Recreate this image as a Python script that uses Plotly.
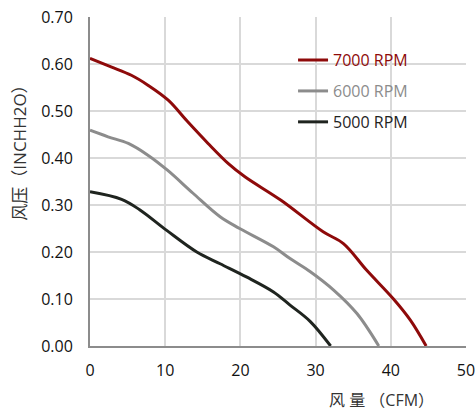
import plotly.graph_objects as go

flow_7000 = [0, 2.8, 5.5, 7.7, 10.4, 13.0, 15.7, 18.4, 20.6, 25.4, 31.0, 33.7, 36.8, 40.3, 42.6, 44.7]
pres_7000 = [0.612, 0.594, 0.576, 0.555, 0.523, 0.477, 0.431, 0.388, 0.36, 0.31, 0.243, 0.218, 0.161, 0.101, 0.055, 0.0]

flow_6000 = [0, 2.4, 5.1, 7.7, 10.3, 13.7, 17.3, 19.9, 24.4, 26.6, 29.3, 32.4, 35.5, 38.4]
pres_6000 = [0.459, 0.445, 0.431, 0.406, 0.374, 0.325, 0.275, 0.25, 0.211, 0.186, 0.158, 0.119, 0.069, 0.0]

flow_5000 = [0, 4.2, 6.6, 10.2, 14.2, 17.3, 20.8, 24.4, 26.6, 29.3, 32.0]
pres_5000 = [0.328, 0.312, 0.29, 0.246, 0.2, 0.175, 0.147, 0.115, 0.087, 0.052, 0.0]

series_names = ["7000 RPM", "6000 RPM", "5000 RPM"]
series_colors = ["#8e0a0a", "#8c8c8c", "#1f241f"]

x_ticks = [0, 10, 20, 30, 40, 50]
y_ticks = [0.0, 0.1, 0.2, 0.3, 0.4, 0.5, 0.6, 0.7]
y_tick_labels = ["0.00", "0.10", "0.20", "0.30", "0.40", "0.50", "0.60", "0.70"]

fig = go.Figure()
data = [(flow_7000, pres_7000), (flow_6000, pres_6000), (flow_5000, pres_5000)]
legends = ["legend", "legend2", "legend3"]
for (xs, ys), name, color, lg in zip(data, series_names, series_colors, legends):
    fig.add_trace(go.Scatter(
        x=xs, y=ys, mode="lines", name=name,
        line=dict(color=color, width=3, shape="spline", smoothing=1.0),
        legend=lg,
    ))

font_family = "Open Sans, Noto Sans CJK SC, sans-serif"
leg_common = dict(bgcolor="rgba(0,0,0,0)", borderwidth=0, xanchor="left", yanchor="middle",
                  itemwidth=30, tracegroupgap=0)
legend_y = [0.869, 0.775, 0.681]
lay_leg = {}
for lg, color, yy in zip(legends, series_colors, legend_y):
    d = dict(leg_common)
    d.update(x=0.54, y=yy, font=dict(family=font_family, size=16, color=color))
    lay_leg[lg] = d

fig.update_layout(
    width=476, height=412,
    margin=dict(l=90, r=10, t=17, b=66),
    paper_bgcolor="white", plot_bgcolor="white",
    showlegend=True,
    font=dict(family=font_family, size=16, color="#111111"),
    xaxis=dict(range=[0, 50], tickvals=x_ticks, showgrid=True, gridcolor="#d9d9d9", gridwidth=1.5,
               showline=True, linecolor="#8c8c8c", linewidth=2, zeroline=False, automargin=False,
               ticks="", ticklabelstandoff=9, tickfont=dict(size=16, color="#111111"),
               mirror=False),
    yaxis=dict(range=[0, 0.7], tickvals=y_ticks, ticktext=y_tick_labels, showgrid=True,
               gridcolor="#d9d9d9", gridwidth=1.5, automargin=False,
               showline=True, linecolor="#8c8c8c", linewidth=2, zeroline=False,
               ticks="", ticklabelstandoff=12, tickfont=dict(size=16, color="#111111")),
    **lay_leg,
)

fig.add_annotation(text="风 量 （CFM）", xref="paper", yref="paper", x=0.775, y=-0.165,
                   xanchor="center", yanchor="middle", showarrow=False,
                   font=dict(family=font_family, size=16, color="#333333"))
fig.add_annotation(text="风压（INCHH2O）", xref="paper", yref="paper", x=-0.186, y=0.6,
                   xanchor="center", yanchor="middle", showarrow=False, textangle=-90,
                   font=dict(family=font_family, size=17, color="#333333"))

fig.write_html("out.html", config={"displayModeBar": False},
               post_script="document.body.style.margin='0';")
